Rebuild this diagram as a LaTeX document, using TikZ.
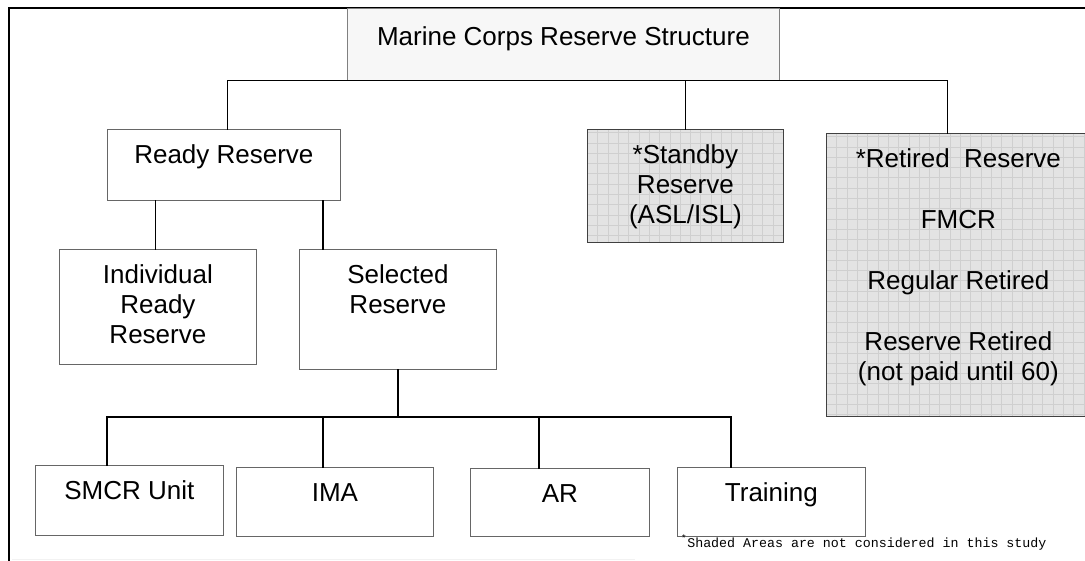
\documentclass[tikz,border=0pt]{standalone}
\usepackage{fontspec}
\setmainfont{Liberation Sans}
\newfontfamily\notefont{Liberation Mono}
\usetikzlibrary{calc,positioning}

\newcommand{\boxfont}{\fontsize{26}{30}\selectfont}
\newcommand{\boxtext}[3]{\parbox[t][#2][t]{#1}{\centering\strut #3}}

\begin{document}
\begin{tikzpicture}[x=1pt,y=-1pt,
                    box node/.style={draw=black!60,line width=0.8pt,fill=white,anchor=north west,
                                     inner xsep=0pt,inner ysep=13pt,font=\boxfont},
                    title node/.style={box node,draw=black!50,fill=black!3,inner ysep=16pt},
                    shaded node/.style={box node,draw=black!75,fill=gray!22,
                                        path picture={\draw[gray!38,line width=0.5pt]
                                        (path picture bounding box.south west) grid[step=10.3pt]
                                        (path picture bounding box.north east);}},
                    link/.style={draw=black,line width=1.3pt,line cap=rect},
                    frame/.style={draw=black,line width=1.3pt}]

 \path[use as bounding box,clip] (0,0) rectangle (1085,561);

 % page frame
 \draw[frame] (9,570) |- (1095,8);
 \draw[gray!10,line width=1.2pt] (12,559.5) -- (635,559.5);

 \node[title node] (title) at (347,8) {\boxtext{432pt}{40pt}{Marine Corps Reserve Structure}};

 \node[box node] (ready) at (107,129) {\boxtext{233pt}{45pt}{Ready Reserve}};
 \node[shaded node] (stand) at (587,129) {\boxtext{196pt}{87pt}{*Standby\\Reserve\\(ASL/ISL)}};
 \node[shaded node] (retired) at (826,133)
   {\boxtext{264pt}{257pt}{*Retired\ \ Reserve\\[31pt]FMCR\\[31pt]Regular Retired\\[31pt]Reserve Retired\\(not paid until 60)}};

 \node[box node] (irr) at (59,249) {\boxtext{197pt}{89pt}{Individual\\Ready\\Reserve}};
 \node[box node] (sel) at (299,249) {\boxtext{197pt}{94pt}{Selected\\Reserve}};

 \node[box node] (smcr) at (35,465) {\boxtext{188pt}{44pt}{SMCR Unit}};
 \node[box node] (ima) at (236,467) {\boxtext{197pt}{43pt}{IMA}};
 \node[box node] (ar) at (470,468) {\boxtext{179pt}{42pt}{AR}};
 \node[box node] (train) at (677,467) {\boxtext{188pt}{43pt}{Training}};

 \node[anchor=base west,inner sep=0pt,font=\notefont\fontsize{13.3}{15}\selectfont] (note) at (681,547)
   {\textsuperscript{*}Shaded Areas are not considered in this study};

 % top level
 \draw[link] ([xshift=3.5pt]ready.north) |- (title.south) -| ([xshift=-11pt]retired.north);
 \draw[link] (stand.north) -- (stand.north |- title.south);

 % ready reserve
 \coordinate (r1) at ([xshift=-2.5pt]irr.north);
 \coordinate (r2) at ([xshift=24pt]sel.north west);
 \draw[link] (r1) -- (r1 |- ready.south);
 \draw[link] (r2) -- (r2 |- ready.south);

 % selected reserve
 \coordinate (d1) at (107,417);
 \coordinate (d2) at (323,417);
 \coordinate (d3) at (539,417);
 \coordinate (d4) at (731,417);
 \draw[link] (d1) -- (d4);
 \draw[link] (sel.south) -- (sel.south |- d1);
 \foreach \d/\n in {d1/smcr,d2/ima,d3/ar,d4/train}
   \draw[link] (\d) -- (\d |- \n.north);

\end{tikzpicture}
\end{document}
